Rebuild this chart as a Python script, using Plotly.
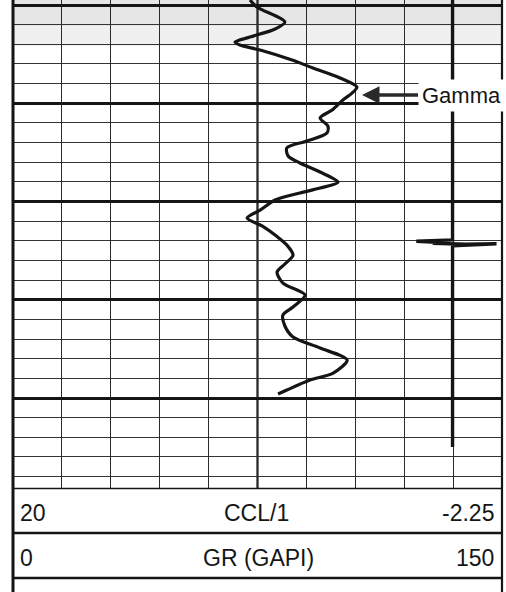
import plotly.graph_objects as go

gr_depth = [4999.49, 5000.20, 5001.73, 5002.44, 5003.26, 5003.77, 5004.07, 5004.58,
            5005.60, 5006.41, 5007.43, 5008.35, 5008.96, 5009.67, 5010.69, 5011.50,
            5012.32, 5013.03, 5013.84, 5014.55, 5015.37, 5016.08, 5017.00, 5018.02,
            5018.63, 5019.13, 5019.85, 5020.87, 5021.68, 5022.49, 5023.57, 5024.43,
            5025.45, 5026.36, 5027.18, 5028.30, 5029.52, 5030.74, 5031.55, 5032.67,
            5033.79, 5034.91, 5036.13, 5037.46, 5038.17, 5039.19, 5039.59]
gr_values = [72.7, 74.8, 83.4, 80.4, 72.7, 68.1, 69.6, 75.8,
             85.6, 92.0, 100.3, 105.5, 104.0, 101.2, 97.9, 94.2,
             96.6, 96.3, 90.2, 84.0, 84.4, 88.0, 94.2, 99.7,
             94.2, 88.0, 80.4, 75.8, 71.8, 76.4, 81.0, 84.0,
             85.9, 83.4, 81.0, 82.8, 89.6, 85.9, 82.8, 83.4,
             85.9, 94.2, 102.5, 98.2, 91.1, 84.0, 81.3]

ccl_depth = [4999.49, 5023.90, 5024.05, 5024.15, 5024.25, 5024.35, 5024.30, 5024.50, 5044.99]
ccl_values = [0.0, 0.0, 1.65, 0.7, 0.9, -0.6, -2.0, 0.0, 0.0]

gr_scale = [0, 150]
ccl_scale = [20, -2.25]
depth_range = [5049.26, 4999.49]
track_labels = ["CCL/1", "GR (GAPI)"]
arrow_label = "Gamma"
arrow_point = [107.06, 5009.16]

W, H = 506, 592
L, R, T, B = 13, 4, 0, 103
ph = H - T - B  # plot height in px


def py(ypx):
    return (H - B - ypx) / ph


FONT = "Liberation Sans, Arial, sans-serif"
INK = "#151515"

fig = go.Figure()

fig.add_trace(go.Scatter(
    x=gr_values, y=gr_depth, mode="lines", line=dict(color=INK, width=3.2, shape="spline", smoothing=0.8),
    xaxis="x", yaxis="y", showlegend=False, hoverinfo="skip"))

fig.add_trace(go.Scatter(
    x=ccl_values, y=ccl_depth, mode="lines", line=dict(color=INK, width=3.4),
    xaxis="x2", yaxis="y", showlegend=False, hoverinfo="skip"))

shapes = []
# light scan shading at top
shapes.append(dict(type="rect", xref="paper", yref="paper", x0=0, x1=1, y0=py(26), y1=py(0),
                   fillcolor="#e6e6e6", line=dict(width=0), layer="below"))
shapes.append(dict(type="rect", xref="paper", yref="paper", x0=0, x1=1, y0=py(46), y1=py(26),
                   fillcolor="#f0f0f0", line=dict(width=0), layer="below"))
# heavier middle vertical line
shapes.append(dict(type="line", xref="x", yref="paper", x0=75, x1=75, y0=0, y1=1,
                   line=dict(color=INK, width=2.2), layer="below"))
# borders
shapes.append(dict(type="line", xref="paper", yref="paper", x0=0, x1=0, y0=py(592), y1=1,
                   line=dict(color=INK, width=3)))
shapes.append(dict(type="line", xref="paper", yref="paper", x0=1, x1=1, y0=py(592), y1=1,
                   line=dict(color=INK, width=2.2)))
for ypx, w in [(488.5, 1.6), (533, 2.6), (578, 2.6)]:
    shapes.append(dict(type="line", xref="paper", yref="paper", x0=0, x1=1, y0=py(ypx), y1=py(ypx),
                       line=dict(color=INK, width=w)))

annotations = []
rows = [(513, ccl_scale, track_labels[0], 256), (558, gr_scale, track_labels[1], 258)]
for ypx, scale, label, cx in rows:
    annotations.append(dict(text=str(scale[0]), x=(18 - L) / 489, y=py(ypx), xref="paper", yref="paper",
                            xanchor="left", yanchor="middle", showarrow=False,
                            font=dict(family=FONT, size=23, color=INK)))
    annotations.append(dict(text=label, x=(cx - L) / 489, y=py(ypx), xref="paper", yref="paper",
                            xanchor="center", yanchor="middle", showarrow=False,
                            font=dict(family=FONT, size=23, color=INK)))
    annotations.append(dict(text=str(scale[1]), x=(496 - L) / 489, y=py(ypx), xref="paper", yref="paper",
                            xanchor="right", yanchor="middle", showarrow=False,
                            font=dict(family=FONT, size=23, color=INK)))

annotations.append(dict(text=arrow_label, x=arrow_point[0], y=arrow_point[1], xref="x", yref="y",
                        ax=56, ay=0, axref="pixel", ayref="pixel", xanchor="left", yanchor="middle",
                        showarrow=True, arrowhead=2, arrowsize=1.0, arrowwidth=3.5, arrowcolor="#2a2a2a",
                        bgcolor="white", borderpad=3, standoff=0,
                        font=dict(family=FONT, size=22, color=INK)))

fig.update_layout(
    width=W, height=H,
    margin=dict(l=L, r=R, t=T, b=B),
    paper_bgcolor="white", plot_bgcolor="white",
    shapes=shapes, annotations=annotations,
    xaxis=dict(range=gr_scale, tick0=0, dtick=15, showgrid=True, gridcolor="#2a2a2a", gridwidth=1.3,
               showticklabels=False, ticks="", zeroline=False, showline=False, fixedrange=True),
    xaxis2=dict(range=ccl_scale, overlaying="x", showgrid=False, showticklabels=False, ticks="",
                zeroline=False, showline=False),
    yaxis=dict(range=depth_range, tick0=5000, dtick=10, showgrid=True, gridcolor="#151515", gridwidth=2.6,
               minor=dict(tick0=5000, dtick=2, showgrid=True, gridcolor="#333333", gridwidth=1.3),
               showticklabels=False, ticks="", zeroline=False, showline=False),
)

fig.write_html("out.html", config={"displayModeBar": False},
               post_script="document.body.style.margin='0px';document.body.style.overflow='hidden';")
